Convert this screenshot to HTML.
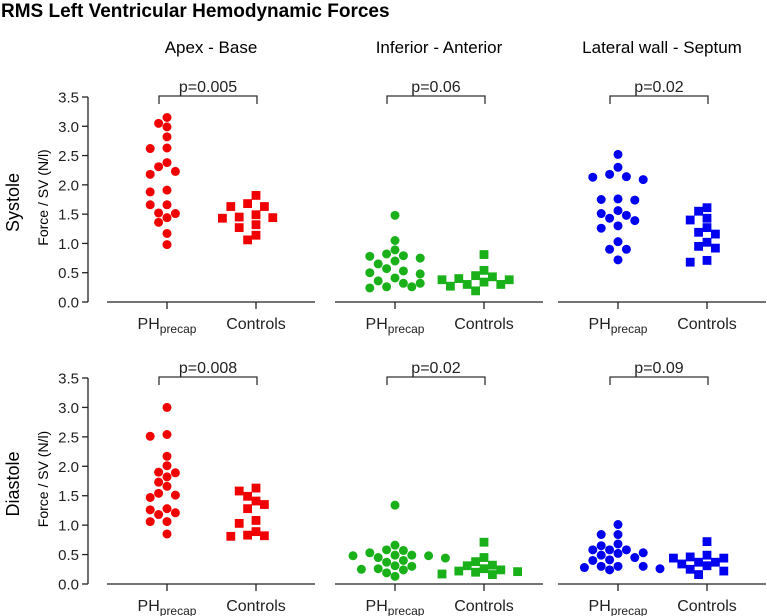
<!DOCTYPE html>
<html><head><meta charset="utf-8"><style>
html,body{margin:0;padding:0;background:#fff;}
svg{display:block;font-family:"Liberation Sans",Arial,sans-serif;}
</style></head><body>
<svg id="chart" width="767" height="616" viewBox="0 0 767 616" xmlns="http://www.w3.org/2000/svg">
<text x="1" y="17" font-size="19" font-weight="bold" fill="#000">RMS Left Ventricular Hemodynamic Forces</text>
</svg>
<script>
const panelTitles = ["Apex - Base", "Inferior - Anterior", "Lateral wall - Septum"];
const rowTitles = ["Systole", "Diastole"];
const categories = ["PH", "Controls"];
const yTicks = [0, 0.5, 1, 1.5, 2, 2.5, 3, 3.5];
const yTickLabels = ["0.0","0.5","1.0","1.5","2.0","2.5","3.0","3.5"];
const pValues = [["p=0.005","p=0.06","p=0.02"],["p=0.008","p=0.02","p=0.09"]];
const colors = ["#f00000", "#19b019", "#0000f0"];

const sysApexPH = [3.15,2.99,3.05,2.82,2.62,2.63,2.38,2.18,2.23,2.31,1.88,1.91,1.66,1.66,1.52,1.51,1.44,1.36,1.17,0.98];
const sysApexCtrl = [1.82,1.63,1.43,1.63,1.45,1.27,1.06,1.68,1.49,1.32,1.14,1.44];
const sysInfPH = [1.48,1.05,0.70,0.78,0.82,0.75,0.79,0.89,0.65,0.57,0.53,0.48,0.41,0.36,0.32,0.32,0.26,0.26,0.24,0.50];
const sysInfCtrl = [0.81,0.40,0.45,0.27,0.34,0.30,0.43,0.30,0.54,0.38,0.19,0.38];
const sysLatPH = [2.52,2.30,2.18,2.09,2.14,2.13,1.75,1.76,1.74,1.56,1.51,1.43,1.48,1.39,1.26,1.30,1.03,0.90,0.90,0.72];
const sysLatCtrl = [1.55,1.40,1.16,0.95,0.68,1.19,1.02,0.71,1.61,1.43,1.27,0.92];
const diaApexPH = [3.0,2.54,2.51,2.17,2.01,1.89,1.90,1.82,1.73,1.66,1.54,1.47,1.51,1.28,1.26,1.21,1.18,1.06,1.06,0.85];
const diaApexCtrl = [1.63,1.03,0.81,1.28,0.89,1.49,1.35,1.08,0.82,1.58,1.41,0.83];
const diaInfPH = [1.34,0.66,0.48,0.49,0.57,0.58,0.49,0.53,0.48,0.37,0.40,0.44,0.30,0.24,0.26,0.31,0.25,0.19,0.13,0.45];
const diaInfCtrl = [0.71,0.45,0.38,0.31,0.20,0.22,0.26,0.32,0.16,0.24,0.17,0.21];
const diaLatPH = [1.01,0.84,0.84,0.65,0.58,0.52,0.53,0.58,0.68,0.58,0.49,0.45,0.40,0.41,0.28,0.30,0.30,0.24,0.30,0.26];
const diaLatCtrl = [0.72,0.46,0.44,0.49,0.31,0.34,0.37,0.22,0.44,0.25,0.37,0.16];

const series = [
  [[sysApexPH,sysApexCtrl],[sysInfPH,sysInfCtrl],[sysLatPH,sysLatCtrl]],
  [[diaApexPH,diaApexCtrl],[diaInfPH,diaInfCtrl],[diaLatPH,diaLatCtrl]]
];

const NS = "http://www.w3.org/2000/svg";
const svg = document.getElementById("chart");
function mk(tag, attrs, parent, text) {
  const e = document.createElementNS(NS, tag);
  for (const k in attrs) e.setAttribute(k, attrs[k]);
  if (text !== undefined) e.textContent = text;
  (parent || svg).appendChild(e);
  return e;
}
const rowBase = [302, 584];
const rowTop = [97, 378];
const panelX = [107, 335, 558];
const panelW = 208;
function yScale(r, v) { return rowBase[r] - v * (rowBase[r] - rowTop[r]) / 3.5; }
function catX(p, c) { return panelX[p] + (c === 0 ? 60 : 149); }

function swarm(vals, cx, r) {
  const placed = [];
  const order = vals.map((v, i) => i).sort((a, b) => vals[b] - vals[a]);
  const out = new Array(vals.length);
  order.forEach(i => {
    const y = yScale(r, vals[i]);
    const cands = [0];
    for (let k = 1; k < 12; k++) { cands.push(-k); cands.push(k); }
    for (const k of cands) {
      const x = cx + k * 8.4;
      if (placed.every(p => Math.hypot(p[0] - x, p[1] - y) >= 9.0)) {
        placed.push([x, y]); out[i] = [x, y]; break;
      }
    }
  });
  return out;
}

panelTitles.forEach((t, p) => {
  const e = mk("text", {x: panelX[p] + 104, y: 53, "font-size": 17, "text-anchor": "middle", fill: "#000"}, svg, t);
  
  
});

for (let r = 0; r < 2; r++) {
  const cy = (rowTop[r] + rowBase[r]) / 2;
  const rt = mk("text", {x: 0, y: 0, transform: `translate(19,${cy + 3}) rotate(-90)`, "font-size": 18, "text-anchor": "middle", fill: "#000"}, svg, rowTitles[r]);
  
  
  const yt = mk("text", {x: 0, y: 0, transform: `translate(48,${cy - 2}) rotate(-90)`, "font-size": 14, "text-anchor": "middle", fill: "#000"}, svg, "Force / SV (N/l)");
  
  
  const ya = mk("line", {x1: 88, x2: 88, y1: rowTop[r], y2: rowBase[r], stroke: "#222", "stroke-width": 1.3});
  
  
  yTicks.forEach((v, i) => {
    const y = yScale(r, v);
    mk("line", {x1: 82, x2: 88, y1: y, y2: y, stroke: "#222", "stroke-width": 1.3});
    const tl = mk("text", {x: 79, y: y + 5.5, "font-size": 15, "text-anchor": "end", fill: "#222"}, svg, yTickLabels[i]);
    
    
  });
  for (let p = 0; p < 3; p++) {
    const xa = mk("line", {x1: panelX[p], x2: panelX[p] + panelW, y1: rowBase[r], y2: rowBase[r], stroke: "#222", "stroke-width": 1.3});
    
    
    for (let c = 0; c < 2; c++) {
      const cx = catX(p, c);
      mk("line", {x1: cx, x2: cx, y1: rowBase[r], y2: rowBase[r] + 7, stroke: "#222", "stroke-width": 1.3});
      let lab;
      if (c === 0) {
        lab = mk("text", {x: cx, y: rowBase[r] + 27, "font-size": 16, "text-anchor": "middle", fill: "#222"});
        mk("tspan", {}, lab, "PH");
        mk("tspan", {"font-size": 12, dy: 4}, lab, "precap");
      } else {
        lab = mk("text", {x: cx, y: rowBase[r] + 27, "font-size": 16, "text-anchor": "middle", fill: "#222"}, svg, "Controls");
      }
      
      
    }
    const bx1 = catX(p, 0) - 8, bx2 = catX(p, 1) + 1, by = rowTop[r] - 1;
    const br = mk("path", {d: `M${bx1},${by + 8} V${by} H${bx2} V${by + 8}`, fill: "none", stroke: "#333", "stroke-width": 1.3});
    
    
    const pt = mk("text", {x: (bx1 + bx2) / 2, y: by - 4, "font-size": 16, "text-anchor": "middle", fill: "#222"}, svg, pValues[r][p]);
    
    
    for (let c = 0; c < 2; c++) {
      const vals = series[r][p][c];
      const pos = swarm(vals, catX(p, c), r);
      pos.forEach(q => {
        let m;
        if (c === 0) {
          m = mk("circle", {cx: q[0], cy: q[1], r: 4.5, fill: colors[p]});
          
        } else {
          m = mk("rect", {x: q[0] - 4.4, y: q[1] - 4.4, width: 8.8, height: 8.8, fill: colors[p]});
          
        }
        
      });
    }
  }
}
</script>
</body></html>
